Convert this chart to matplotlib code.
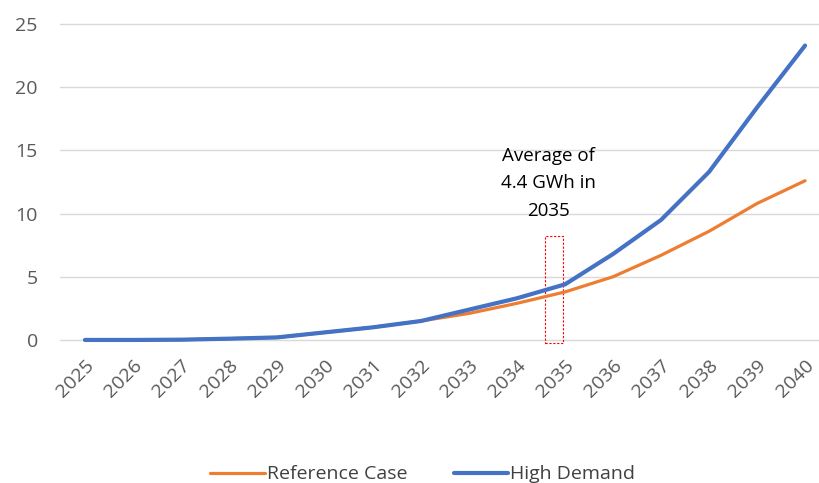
import numpy as np
import matplotlib.pyplot as plt
from matplotlib.patches import Rectangle

plt.rcParams["font.family"] = ["Open Sans", "DejaVu Sans"]

years = list(range(2025, 2041))
reference_case = [0, 0, 0.02, 0.1, 0.2, 0.6, 1.0, 1.5, 2.1, 2.9, 3.8, 5.0, 6.7, 8.6, 10.8, 12.6]
high_demand = [0, 0, 0.02, 0.1, 0.2, 0.6, 1.0, 1.5, 2.4, 3.3, 4.4, 6.8, 9.5, 13.3, 18.4, 23.3]
y_ticks = [0, 5, 10, 15, 20, 25]

W, H = 819, 483
fig = plt.figure(figsize=(W / 100, H / 100), dpi=100)
# 坐标轴位置 (像素换算)
ax = fig.add_axes([60 / W, (H - 345) / H, (W - 60) / W, 325 / H])

ax.plot(years, reference_case, color="#ED7D31", lw=2.3, label="Reference Case", solid_capstyle="round")
ax.plot(years, high_demand, color="#4472C4", lw=3.0, label="High Demand", solid_capstyle="round")

ax.set_xlim(2024.48, 2040.29)
ax.set_ylim(-0.4, 25.32)
ax.set_yticks(y_ticks)
ax.set_xticks(years)
ax.set_xticklabels([str(y) for y in years], rotation=45, ha="right", va="top",
                   rotation_mode="anchor")
ax.tick_params(axis="both", length=0, colors="#595959", labelsize=14)
ax.tick_params(axis="x", pad=8)
ax.tick_params(axis="y", pad=16)
ax.grid(axis="y", color="#d9d9d9", lw=1)
ax.set_axisbelow(True)
for s in ax.spines.values():
    s.set_visible(False)

# 红色虚线框
ax.add_patch(Rectangle((2034.58, -0.25), 0.38, 8.45, fill=False, ec="#FF0000",
                       lw=0.8, ls=(0, (2, 1.5)), clip_on=False))
ax.text(2034.65, 12.4, "Average of\n4.4 GWh in\n2035", ha="center", va="center",
        fontsize=13.5, linespacing=1.68, color="#000000")

leg = fig.legend(loc="lower center", bbox_to_anchor=(0.516, -0.037), ncol=2, frameon=False,
                 fontsize=14, handlelength=2.8, handletextpad=0.1, columnspacing=2.4)
for t in leg.get_texts():
    t.set_color("#404040")

fig.savefig("out.png", dpi=100, facecolor="white")
